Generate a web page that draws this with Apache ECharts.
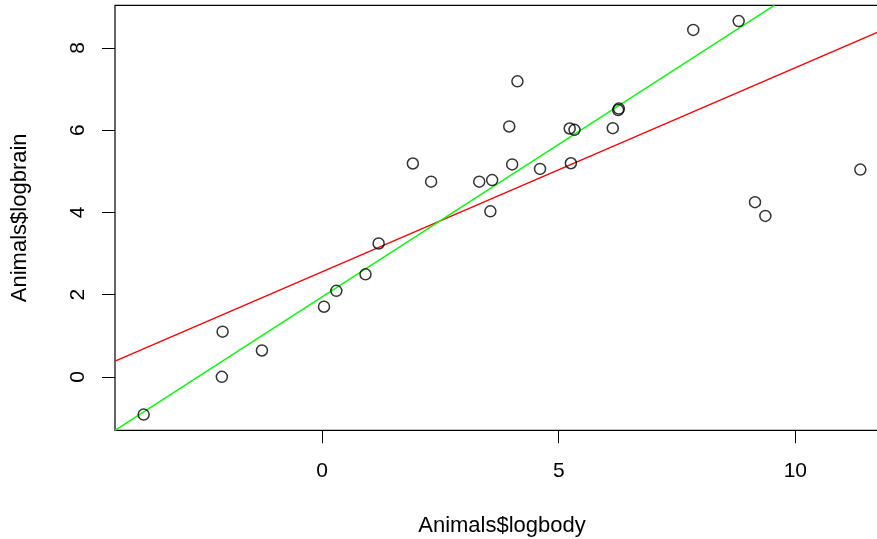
<!DOCTYPE html>
<html>
<head>
<meta charset="utf-8">
<script src="https://cdn.jsdelivr.net/npm/echarts@6/dist/echarts.min.js"></script>
<style>
html,body{margin:0;padding:0;background:#fff;}
#chart{width:877px;height:539px;}
</style>
</head>
<body>
<div id="chart"></div>
<script>
// MASS::Animals, natural logs
const animals = ["Mountain beaver","Cow","Grey wolf","Goat","Guinea pig","Dipliodocus","Asian elephant","Donkey","Horse","Potar monkey","Cat","Giraffe","Gorilla","Human","African elephant","Triceratops","Rhesus monkey","Kangaroo","Golden hamster","Mouse","Rabbit","Sheep","Jaguar","Chimpanzee","Rat","Brachiosaurus","Mole","Pig"];
const logbody = [0.300, 6.142, 3.593, 3.320, 0.039, 9.367, 7.843, 5.232, 6.256, 2.303, 1.194, 6.271, 5.333, 4.127, 8.803, 9.148, 1.917, 3.555, -2.120, -3.772, 0.916, 4.016, 4.605, 3.954, -1.273, 11.374, -2.104, 5.257];
const logbrain = [2.092, 6.047, 4.783, 4.745, 1.705, 3.912, 8.434, 6.038, 6.485, 4.745, 3.243, 6.522, 6.006, 7.185, 8.650, 4.248, 5.187, 4.025, 0.000, -0.916, 2.493, 5.165, 5.056, 6.087, 0.642, 5.040, 1.099, 5.193];
// fitted lines (endpoints)
const redLine = [[-4.378, 0.383], [11.98, 8.497]];
const greenLine = [[-4.378, -1.299], [9.556, 9.033]];
const xTicks = [0, 5, 10];
const yTicks = [0, 2, 4, 6, 8];
const xRange = [-4.378, 11.98];
const yRange = [-1.299, 9.033];

const font = '"Liberation Sans", Arial, Helvetica, sans-serif';
const points = logbody.map((x, i) => [x, logbrain[i]]);

const chart = echarts.init(document.getElementById('chart'), null, {renderer: 'canvas'});
chart.setOption({
  backgroundColor: '#fff',
  animation: false,
  grid: {left: 115, top: 5.3, width: 774, height: 425, show: true, borderColor: '#000', borderWidth: 1.2,
         containLabel: false, outerBoundsMode: 'none'},
  xAxis: {
    type: 'value', min: xRange[0], max: xRange[1],
    splitLine: {show: false},
    axisLine: {show: false, onZero: false},
    axisTick: {show: true, inside: false, length: 13, customValues: xTicks, lineStyle: {color: '#000', width: 1}},
    axisLabel: {show: true, customValues: xTicks, margin: 41, verticalAlign: 'middle', color: '#000', fontSize: 21, fontFamily: font},
    name: 'Animals$logbody', nameLocation: 'middle', nameGap: 96,
    nameTextStyle: {color: '#000', fontSize: 22, fontFamily: font, verticalAlign: 'middle'}
  },
  yAxis: {
    type: 'value', min: yRange[0], max: yRange[1],
    splitLine: {show: false},
    axisLine: {show: false, onZero: false},
    axisTick: {show: true, inside: false, length: 13, customValues: yTicks, lineStyle: {color: '#000', width: 1}},
    axisLabel: {show: true, customValues: yTicks, rotate: 90, margin: 37, align: 'center', verticalAlign: 'middle', color: '#000', fontSize: 21, fontFamily: font},
    name: 'Animals$logbrain', nameLocation: 'middle', nameGap: 95, nameRotate: 90,
    nameTextStyle: {color: '#000', fontSize: 22, fontFamily: font, verticalAlign: 'middle', align: 'center'}
  },
  series: [
    {
      type: 'scatter', data: points, symbol: 'circle', symbolSize: 11,
      itemStyle: {color: 'rgba(0,0,0,0)', borderColor: '#000', borderWidth: 1.5},
      z: 3
    },
    {
      type: 'line', data: redLine, showSymbol: false, symbol: 'none', clip: true,
      lineStyle: {color: '#ff0000', width: 1.4}, z: 2
    },
    {
      type: 'line', data: greenLine, showSymbol: false, symbol: 'none', clip: true,
      lineStyle: {color: '#00ff00', width: 1.4}, z: 2
    }
  ]
});
</script>
</body>
</html>
